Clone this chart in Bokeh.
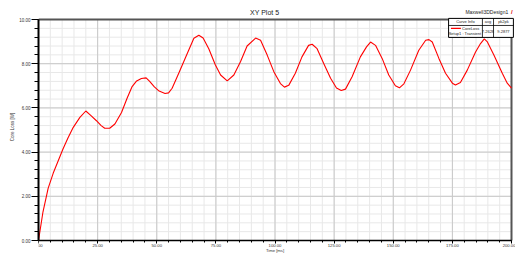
from bokeh.plotting import figure
from bokeh.models import Range1d, Label, FixedTicker
from bokeh.embed import file_html
from bokeh.resources import INLINE

time_ms = [0, 1.9, 4.1, 6.2, 8.3, 10.4, 12.5, 14.7, 17.5, 20.0, 22.2, 24.5, 26.5, 28.0, 30.1,
           32.3, 35.1, 37.5, 39.5, 41.5, 43.5, 45.5, 47.0, 49.0, 51.0, 53.5, 55.0, 56.5,
           59.3, 62.9, 65.7, 67.8, 69.6, 72.0, 74.8, 77.0, 79.8, 82.6, 85.4, 88.2, 91.8,
           93.9, 96.7, 99.5, 102.3, 104.0, 105.8, 108.6, 111.4, 114.2, 115.7, 117.8, 120.6,
           123.5, 126.0, 128.0, 129.8, 132.6, 136.1, 138.7, 140.4, 142.5, 145.3, 148.1,
           150.9, 152.6, 154.5, 157.3, 160.8, 163.7, 165.1, 166.5, 169.3, 172.1, 175.0,
           176.3, 178.4, 181.3, 184.8, 186.9, 188.5, 189.7, 192.6, 196.1, 198.2, 200.0]
core_loss = [0.0, 1.3, 2.37, 3.04, 3.6, 4.15, 4.65, 5.12, 5.57, 5.86, 5.65, 5.42, 5.20, 5.08, 5.08,
             5.27, 5.79, 6.45, 6.95, 7.22, 7.33, 7.36, 7.2, 6.95, 6.76, 6.65, 6.68, 6.89,
             7.57, 8.46, 9.15, 9.29, 9.16, 8.68, 7.94, 7.49, 7.22, 7.49, 8.09, 8.80, 9.16,
             9.06, 8.39, 7.64, 7.10, 6.94, 7.02, 7.57, 8.31, 8.83, 8.88, 8.68, 8.01,
             7.34, 6.90, 6.79, 6.85, 7.41, 8.31, 8.76, 8.98, 8.83, 8.24, 7.49,
             7.00, 6.91, 7.09, 7.71, 8.61, 9.06, 9.09, 8.98, 8.24, 7.57, 7.12,
             7.04, 7.15, 7.71, 8.53, 8.91, 9.12, 9.00, 8.38, 7.57, 7.12, 6.90]

x_ticks = [0, 25, 50, 75, 100, 125, 150, 175, 200]
y_ticks = [0, 2, 4, 6, 8, 10]
x_minor = [v for v in range(0, 201, 5)]
y_minor = [round(i * 0.4, 1) for i in range(0, 26)]

title_text = "XY Plot 5"
design_text = "Maxwell3DDesign1"
x_label = "Time [ms]"
y_label = "Core Loss [W]"
curve_name = "CoreLoss"
setup_name = "Setup1 : Transient"
avg_text = "7.2628"
pk2pk_text = "9.2877"

FONT = "Liberation Sans"
X0, X1 = 0, 200
Y0, Y1 = 0, 10
Y_MIN, Y_MAX = -0.588, 10.86

p = figure(width=515, height=253, output_backend="svg", toolbar_location=None, title=None,
           x_range=Range1d(0, 201.69), y_range=Range1d(Y_MIN, Y_MAX),
           min_border_left=38, min_border_right=0, min_border_top=0, min_border_bottom=0)
p.background_fill_color = "white"
p.border_fill_color = "white"
p.outline_line_color = None
p.xgrid.visible = False
p.ygrid.visible = False

p.xaxis.ticker = FixedTicker(ticks=x_ticks, minor_ticks=x_minor)
p.yaxis.ticker = FixedTicker(ticks=y_ticks, minor_ticks=y_minor)
p.xaxis.major_label_overrides = {t: f"{t:.2f}" for t in x_ticks}
p.yaxis.major_label_overrides = {t: f"{t:.2f}" for t in y_ticks}
p.xaxis.bounds = (X0, X1)
p.yaxis.bounds = (Y0, Y1)
p.xaxis.fixed_location = Y0

for ax in (p.xaxis[0], p.yaxis[0]):
    ax.axis_line_color = "black"
    ax.major_tick_line_color = "black"
    ax.minor_tick_line_color = "black"
    ax.major_tick_in = 0
    ax.minor_tick_in = 0
    ax.major_label_text_font = FONT
    ax.major_label_text_font_size = "4.5px"
    ax.major_label_text_color = "#333333"
    ax.major_label_standoff = 1

p.yaxis.axis_line_width = 2
p.yaxis.major_tick_out = 7
p.yaxis.minor_tick_out = 4
p.yaxis.axis_label = y_label
p.yaxis.axis_label_text_font = FONT
p.yaxis.axis_label_text_font_size = "4.5px"
p.yaxis.axis_label_text_font_style = "normal"
p.yaxis.axis_label_text_color = "#333333"
p.yaxis.axis_label_standoff = 1

p.xaxis.axis_line_width = 1.5
p.xaxis.major_tick_out = 3
p.xaxis.minor_tick_out = 2
p.xaxis.major_label_standoff = 0
p.xaxis.major_label_text_font_size = "4.2px"

# grid drawn from the tick lists, limited to the data box
p.segment(x0=x_minor, y0=[Y0] * len(x_minor), x1=x_minor, y1=[Y1] * len(x_minor),
          line_color="#e8e8e8", line_width=1)
p.segment(x0=[X0] * len(y_minor), y0=y_minor, x1=[X1] * len(y_minor), y1=y_minor,
          line_color="#e8e8e8", line_width=1)
p.segment(x0=x_ticks, y0=[Y0] * len(x_ticks), x1=x_ticks, y1=[Y1] * len(x_ticks),
          line_color="#c8c8c8", line_width=1)
p.segment(x0=[X0] * len(y_ticks), y0=y_ticks, x1=[X1] * len(y_ticks), y1=y_ticks,
          line_color="#c8c8c8", line_width=1)
# frame top and right
p.segment(x0=[X0, X1], y0=[Y1, Y0], x1=[X1, X1], y1=[Y1, Y1], line_color="#555555", line_width=2)

p.line(time_ms, core_loss, line_color="#ff0000", line_width=1.1)

p.add_layout(Label(x=95.6, y=10.32, text=title_text, text_font=FONT, text_font_size="7px",
                   text_color="#222222", text_align="center", text_baseline="middle"))
p.add_layout(Label(x=198.6, y=10.32, text=design_text, text_font=FONT, text_font_size="5px",
                   text_color="#222222", text_align="right", text_baseline="middle"))
p.add_layout(Label(x=199.8, y=10.32, text="/", text_font=FONT, text_font_size="6px",
                   text_color="#e00000", text_align="left", text_baseline="middle",
                   text_font_style="bold"))
p.add_layout(Label(x=100, y=Y_MIN + 0.01, text=x_label, text_font=FONT, text_font_size="4.2px",
                   text_color="#333333", text_align="center", text_baseline="bottom"))

L, R, T, B = 173.4, 200.8, 10.05, 9.19
c1, c2, hsep = 187.7, 192.4, 9.73
p.quad(left=[L], right=[R], top=[T], bottom=[B], fill_color="white",
       line_color="black", line_width=1)
p.segment(x0=[c1, c2, L], y0=[T, T, hsep], x1=[c1, c2, R], y1=[B, B, hsep],
          line_color="black", line_width=0.8)
p.segment(x0=[L + 1.0], y0=[9.595], x1=[L + 5.2], y1=[9.595], line_color="#ff0000", line_width=1.2)

def txt(x, y, s, align="center"):
    p.add_layout(Label(x=x, y=y, text=s, text_font=FONT, text_font_size="4px",
                       text_color="#222222", text_align=align, text_baseline="middle"))

txt(180.5, 9.89, "Curve Info")
txt(190.05, 9.89, "avg")
txt(196.6, 9.89, "pk2pk")
txt(182.7, 9.595, curve_name)
txt(180.3, 9.347, setup_name)
txt(190.05, 9.473, avg_text)
txt(196.6, 9.473, pk2pk_text)

open("out.html", "w").write(file_html(p, INLINE))
